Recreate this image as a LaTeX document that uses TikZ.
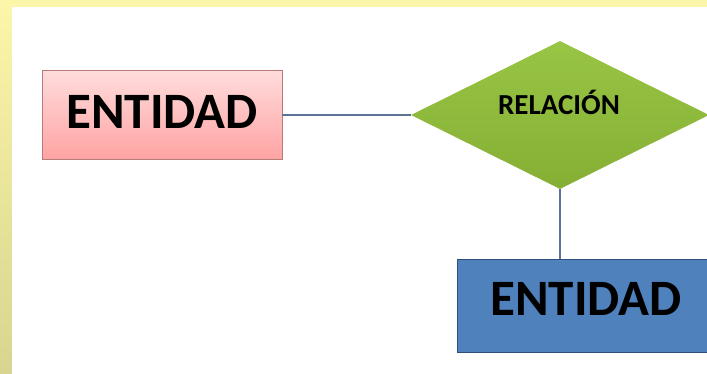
\documentclass[tikz,border=0pt]{standalone}
\usepackage{fontspec}
\setmainfont{Carlito}
\usetikzlibrary{shapes.geometric}

\definecolor{frameTop}{HTML}{FBF6A9}
\definecolor{frameBot}{HTML}{D9D48F}
\definecolor{pinkTop}{HTML}{FFDCDC}
\definecolor{pinkBot}{HTML}{FFA3A3}
\definecolor{pinkLine}{HTML}{B97A7A}
\definecolor{greenTop}{HTML}{99C545}
\definecolor{greenBot}{HTML}{84AF34}
\definecolor{blueFill}{HTML}{4F81BD}
\definecolor{blueLine}{HTML}{2F4F7A}
\definecolor{linkLine}{HTML}{5A7396}

\tikzset{
  entbox/.style={rectangle, draw, line width=0.9pt, inner sep=0pt,
    font=\fontsize{51}{51}\selectfont\bfseries, text=black},
  relbox/.style={diamond, inner sep=0pt, top color=greenTop, bottom color=greenBot,
    draw=none},
  link/.style={draw=linkLine, line width=1.3pt}
}

\begin{document}
\begin{tikzpicture}[x=1pt, y=-1pt]
  \useasboundingbox (0,0) rectangle (707,374);
  \clip (0,0) rectangle (707,374);

  % frame and page
  \fill[top color=frameTop, bottom color=frameBot] (0,0) rectangle (707,374);
  \fill[white] (12,7) rectangle (707,374);

  % shapes
  \node[entbox, draw=pinkLine, top color=pinkTop, bottom color=pinkBot,
        minimum width=240pt, minimum height=89pt, text depth=7pt] (e1)
        at (162,115) {ENTIDAD};
  \node[relbox, minimum width=298pt, minimum height=148pt] (rel) at (560,115) {};
  \node[font=\fontsize{29}{29}\selectfont\bfseries, anchor=base] (reltext)
        at (559,115) {RELACIÓN};
  \node[entbox, draw=blueLine, fill=blueFill,
        minimum width=258pt, minimum height=93pt, text depth=14pt] (e2)
        at (586,305.5) {ENTIDAD};

  % connectors
  \draw[link] (e1.east) -- (rel.west);
  \draw[link] (rel.south) -- (rel.south |- e2.north);
\end{tikzpicture}
\end{document}
